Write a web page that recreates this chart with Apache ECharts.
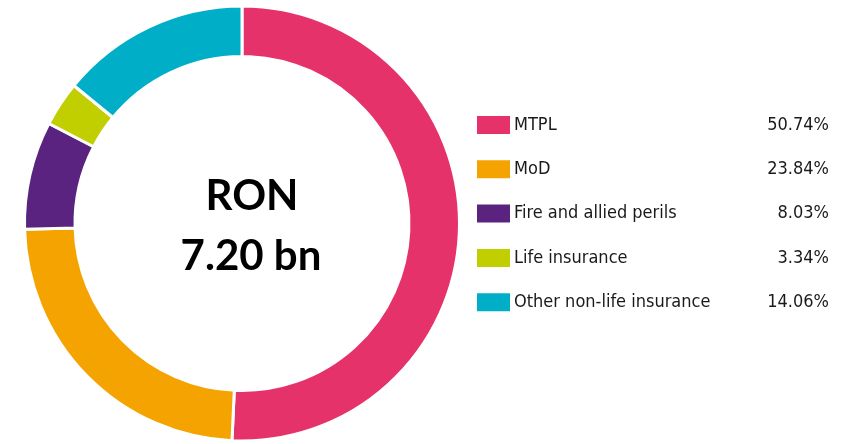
<!DOCTYPE html>
<html><head><meta charset="utf-8">
<script src="https://cdn.jsdelivr.net/npm/echarts@6/dist/echarts.min.js"></script>
<style>html,body{margin:0;padding:0;background:#fff}#c{width:858px;height:444px}</style>
</head><body><div id="c"></div>
<script>
const categories = ["MTPL", "MoD", "Fire and allied perils", "Life insurance", "Other non-life insurance"];
const shares = [50.74, 23.84, 8.03, 3.34, 14.06];
const colors = ["#E5326B", "#F4A300", "#5B2380", "#C1CF00", "#00AFC7"];
const centerLines = ["RON", "7.20 bn"];

const chart = echarts.init(document.getElementById('c'), null, {renderer: 'canvas'});
const narrow = '"Liberation Sans Narrow", "DejaVu Sans Condensed", "Roboto Condensed", sans-serif';
chart.setOption({
  animation: false,
  color: colors,
  legend: {
    orient: 'vertical',
    left: 475,
    top: 114,
    padding: 0,
    itemWidth: 35,
    itemHeight: 20,
    itemGap: 22.3,
    icon: 'rect',
    selectedMode: false,
    formatter: function (name) {
      const i = categories.indexOf(name);
      return '{n|' + name + '}{v|' + shares[i].toFixed(2) + '%}';
    },
    textStyle: {
      padding: [0, 0, 0, -2],
      rich: {
        n: {width: 220, fontSize: 18, fontFamily: narrow, color: '#1a1a1a', lineHeight: 24},
        v: {width: 95, align: 'right', fontSize: 18, fontFamily: narrow, color: '#1a1a1a', lineHeight: 24}
      }
    }
  },
  graphic: [
    {type: 'text', x: 252, y: 196, style: {text: centerLines[0], textAlign: 'center', textVerticalAlign: 'middle', font: 'bold 42px Lato, "Open Sans", sans-serif', fill: '#000'}},
    {type: 'text', x: 251, y: 256, style: {text: centerLines[1], textAlign: 'center', textVerticalAlign: 'middle', font: 'bold 42px Lato, "Open Sans", sans-serif', fill: '#000'}}
  ],
  series: [{
    type: 'pie',
    center: [242, 223.5],
    radius: [167, 217.5],
    startAngle: 90,
    clockwise: true,
    label: {show: false},
    labelLine: {show: false},
    emphasis: {disabled: true},
    itemStyle: {borderColor: '#fff', borderWidth: 3},
    data: categories.map((c, i) => ({name: c, value: shares[i]}))
  }]
});
</script></body></html>
